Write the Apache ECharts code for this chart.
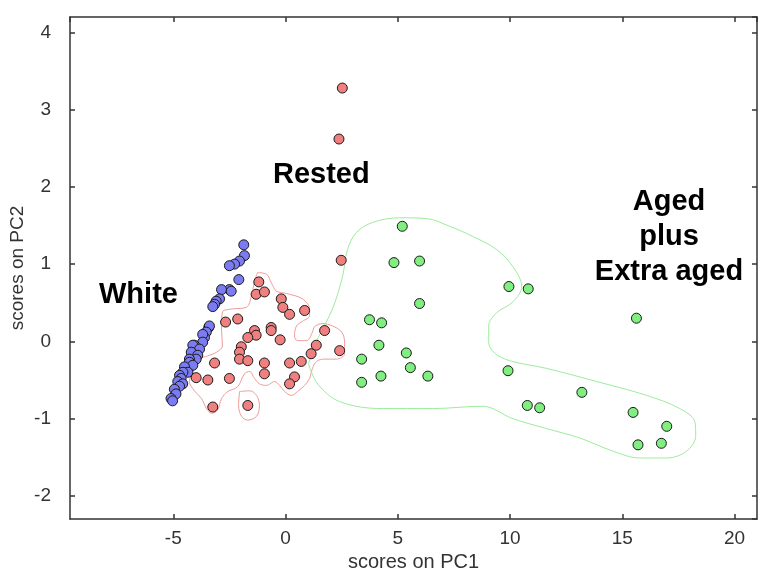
<!DOCTYPE html>
<html>
<head>
<meta charset="utf-8">
<script src="https://cdn.jsdelivr.net/npm/echarts@6/dist/echarts.min.js"></script>
<style>html,body{margin:0;padding:0;background:#fff}#c{width:758px;height:568px}</style>
</head>
<body>
<div id="c"></div>
<script>
// ---- data ----
var whitePts = [[-1.86,1.25],[-1.83,1.11],[-2.05,1.04],[-2.27,1.00],[-2.5,0.98],[-2.08,0.80],[-2.5,0.67],[-2.85,0.67],[-2.42,0.65],[-2.94,0.55],[-3.09,0.52],[-3.16,0.48],[-3.24,0.45],[-3.42,0.18],[-3.39,0.20],[-3.53,0.12],[-3.61,0.05],[-3.69,0.09],[-3.69,-0.01],[-4.06,-0.05],[-4.13,-0.05],[-3.83,-0.10],[-4.2,-0.14],[-3.91,-0.18],[-3.98,-0.23],[-4.28,-0.23],[-4.28,-0.27],[-4.13,-0.31],[-4.5,-0.33],[-4.35,-0.40],[-4.57,-0.40],[-4.72,-0.44],[-4.65,-0.48],[-4.8,-0.52],[-4.58,-0.55],[-4.72,-0.58],[-4.95,-0.62],[-4.88,-0.68],[-5.1,-0.74],[-5.03,-0.77]];
var restedPts = [[2.53,3.28],[2.38,2.62],[2.48,1.05],[-1.19,0.77],[-1.31,0.61],[-0.94,0.64],[-0.19,0.55],[-0.12,0.44],[0.18,0.35],[0.85,0.40],[-2.67,0.25],[-2.13,0.29],[-1.38,0.14],[-1.31,0.08],[-1.68,0.05],[-0.64,0.18],[-0.64,0.14],[-0.24,0.02],[1.74,0.14],[-1.97,-0.07],[-2.05,-0.14],[-2.05,-0.23],[-3.16,-0.28],[-1.68,-0.25],[-0.94,-0.28],[-0.94,-0.42],[0.18,-0.28],[0.70,-0.26],[1.14,-0.16],[1.37,-0.05],[2.41,-0.12],[-3.98,-0.47],[-3.46,-0.50],[-2.5,-0.48],[0.40,-0.46],[0.18,-0.55],[-3.24,-0.85],[-1.68,-0.83]];
var agedPts = [[5.2,1.49],[4.83,1.02],[5.97,1.04],[5.97,0.49],[9.95,0.71],[10.81,0.68],[3.74,0.28],[4.28,0.24],[4.16,-0.05],[5.38,-0.15],[3.39,-0.23],[5.56,-0.34],[6.34,-0.45],[4.25,-0.45],[3.39,-0.53],[9.91,-0.38],[10.77,-0.83],[11.32,-0.86],[15.63,0.30],[13.2,-0.66],[15.48,-0.92],[16.98,-1.10],[15.7,-1.34],[16.74,-1.32]];
var restedContour = [[-1.25,0.89],[-0.85,0.87],[-0.62,0.75],[-0.40,0.65],[0.04,0.62],[0.76,0.55],[1.07,0.42],[1.07,0.33],[0.76,0.26],[0.49,0.20],[0.40,0.07],[0.53,0.01],[0.94,0.01],[1.20,0.12],[1.29,0.19],[1.65,0.23],[2.09,0.20],[2.50,0.12],[2.63,-0.01],[2.63,-0.16],[2.27,-0.23],[1.74,-0.23],[1.38,-0.26],[1.20,-0.35],[1.07,-0.48],[0.85,-0.57],[0.53,-0.65],[0.27,-0.70],[-0.04,-0.65],[-0.27,-0.57],[-0.49,-0.52],[-0.85,-0.57],[-1.16,-0.55],[-1.38,-0.48],[-1.60,-0.39],[-1.83,-0.42],[-2.14,-0.59],[-2.58,-0.65],[-2.85,-0.74],[-3.03,-0.89],[-3.30,-0.93],[-3.52,-0.87],[-3.74,-0.74],[-4.06,-0.64],[-4.28,-0.52],[-4.06,-0.35],[-3.83,-0.23],[-3.48,-0.19],[-3.07,-0.14],[-2.81,-0.06],[-2.85,0.16],[-2.81,0.38],[-2.36,0.42],[-1.74,0.44],[-1.52,0.59],[-1.38,0.78],[-1.25,0.89]];
var restedIsland = [[-2.05,-0.65],[-1.60,-0.64],[-1.29,-0.70],[-1.16,-0.83],[-1.29,-0.97],[-1.69,-1.02],[-1.96,-0.97],[-2.09,-0.83],[-2.05,-0.65]];
var agedContour = [[1.02,-0.29],[1.43,0.03],[2.09,0.42],[2.54,0.84],[2.76,1.19],[3.16,1.41],[3.88,1.54],[5.08,1.60],[6.28,1.59],[7.31,1.49],[8.33,1.36],[9.40,1.19],[10.12,0.97],[10.52,0.71],[10.12,0.51],[9.40,0.37],[9.05,0.20],[9.05,-0.01],[9.31,-0.15],[9.98,-0.25],[11.63,-0.35],[13.86,-0.52],[16.09,-0.70],[17.56,-0.87],[18.23,-1.04],[18.27,-1.22],[17.87,-1.42],[16.98,-1.51],[15.78,-1.51],[14.57,-1.42],[13.10,-1.25],[11.63,-1.13],[10.12,-1.00],[8.78,-0.84],[6.55,-0.87],[4.32,-0.87],[2.41,-0.78],[1.43,-0.55],[1.02,-0.29]];
var xRange = [-9.6, 21];
var yRange = [-2.3, 4.2];
var xTitle = 'scores on PC1';
var yTitle = 'scores on PC2';
var groupLabels = ['White', 'Rested', 'Aged\nplus\nExtra aged'];

var FONT = 'Liberation Sans, Arial, sans-serif';
function tickFmt(step) {
  return function (v) { return Math.abs(v / step - Math.round(v / step)) < 1e-6 ? String(Math.round(v)) : ''; };
}
var axisCommon = {
  axisLine: { show: true, onZero: false, lineStyle: { color: '#333', width: 1.5 } },
  axisTick: { show: true, inside: true, length: 5, lineStyle: { color: '#333', width: 1.5 } },
  splitLine: { show: false }
};
var chart = echarts.init(document.getElementById('c'), null, { renderer: 'canvas' });
function scatter(name, data, color) {
  return { name: name, type: 'scatter', data: data, symbol: 'circle', symbolSize: 10, z: 5,
    itemStyle: { color: color, borderColor: '#1a1a1a', borderWidth: 1, opacity: 1 } };
}
function contour(data, color) {
  return { type: 'line', data: data, smooth: 0.35, symbol: 'none', silent: true, z: 2,
    lineStyle: { color: color, width: 1 } };
}
chart.setOption({
  animation: false,
  backgroundColor: '#fff',
  grid: { left: 70, right: 1, top: 17, bottom: 49, containLabel: false, outerBoundsMode: 'none' },
  xAxis: [
    Object.assign({ type: 'value', min: xRange[0], max: xRange[1], position: 'bottom',
      name: xTitle, nameLocation: 'middle', nameGap: 33, nameMoveOverlap: false,
      nameTextStyle: { fontFamily: FONT, fontSize: 20, color: '#333' },
      axisLabel: { show: true, showMinLabel: false, showMaxLabel: false, formatter: tickFmt(5), margin: 10,
        fontFamily: FONT, fontSize: 19, color: '#333' } }, axisCommon),
    Object.assign({ type: 'value', min: xRange[0], max: xRange[1], position: 'top', axisLabel: { show: false } }, axisCommon)
  ],
  yAxis: [
    Object.assign({ type: 'value', min: yRange[0], max: yRange[1], position: 'left',
      name: yTitle, nameLocation: 'middle', nameGap: 43, nameMoveOverlap: false,
      nameTextStyle: { fontFamily: FONT, fontSize: 19, color: '#333' },
      axisLabel: { show: true, showMinLabel: false, showMaxLabel: false, formatter: tickFmt(1), margin: 19,
        fontFamily: FONT, fontSize: 19, color: '#333' } }, axisCommon),
    Object.assign({ type: 'value', min: yRange[0], max: yRange[1], position: 'right', axisLabel: { show: false } }, axisCommon)
  ],
  series: [
    contour(restedContour, '#f29a9a'),
    contour(restedIsland, '#f29a9a'),
    contour(agedContour, '#9cec9c'),
    scatter('White', whitePts, '#7c7cf2'),
    scatter('Rested', restedPts, '#f08080'),
    scatter('Aged', agedPts, '#80ee80')
  ],
  graphic: [
    { type: 'text', left: 99, top: 280, style: { text: groupLabels[0], font: 'bold 29px ' + FONT, fill: '#000' } },
    { type: 'text', left: 273, top: 160, style: { text: groupLabels[1], font: 'bold 29px ' + FONT, fill: '#000' } },
    { type: 'text', x: 669, y: 184, style: { text: groupLabels[2], font: 'bold 29px ' + FONT, fill: '#000', align: 'center', lineHeight: 35 } }
  ]
});
</script>
</body>
</html>
